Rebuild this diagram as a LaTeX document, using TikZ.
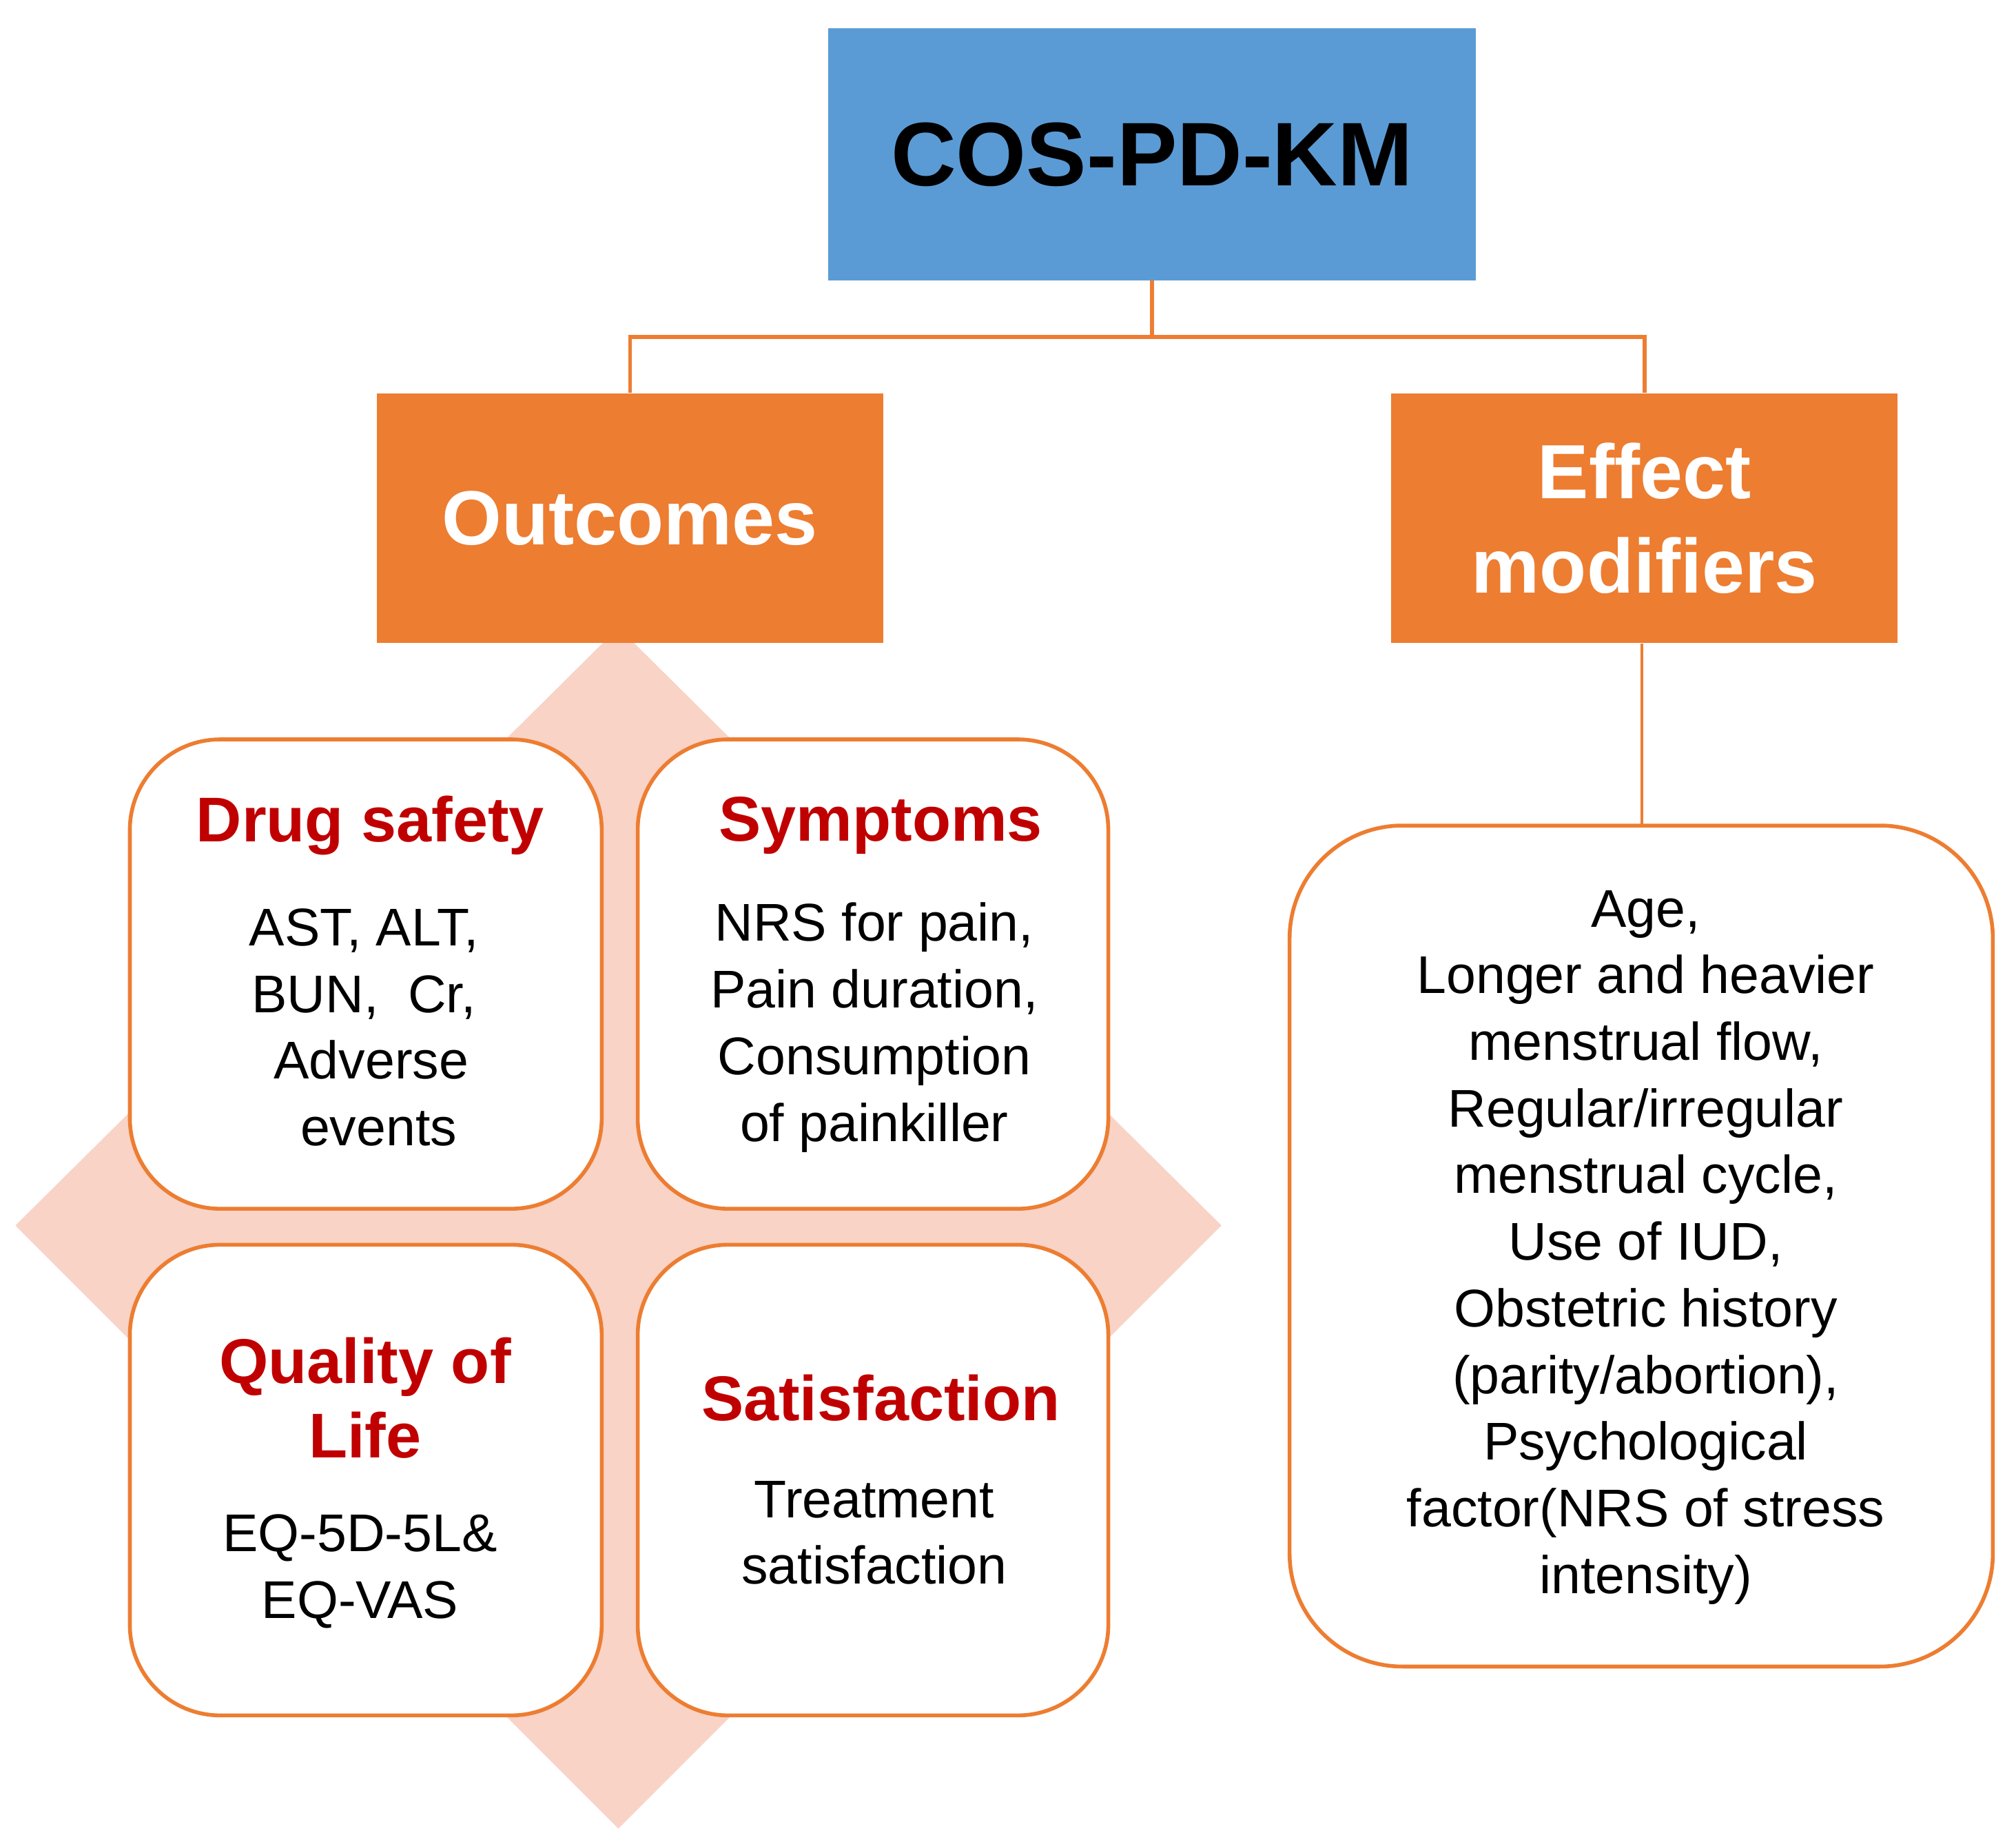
\documentclass[tikz,border=0pt]{standalone}
\usepackage{fontspec}
\setmainfont{Liberation Sans}
\definecolor{cblue}{HTML}{5B9BD5}
\definecolor{corange}{HTML}{ED7D31}
\definecolor{cpink}{HTML}{F8D3C6}
\definecolor{cred}{HTML}{C00000}
\begin{document}
\begin{tikzpicture}[x=0.02cm,y=-0.02cm,
  con/.style={draw=corange,line width=1.7pt},
  hbox/.style={fill=corange,draw=none,text=white,font=\fontsize{34}{42}\selectfont\bfseries,align=center},
  rbox/.style={fill=white,draw=corange,line width=1.7pt,rounded corners=40pt},
  ttl/.style={text=cred,font=\fontsize{28}{33}\selectfont\bfseries,align=center},
  bdy/.style={font=\fontsize{23.5}{29.5}\selectfont,align=center}]
\useasboundingbox (0,0) rectangle (1568,1434);
% diamond
\fill[cpink] (481,488) -- (950,953) -- (481,1422) -- (12,953) -- cycle;
% top
\node[fill=cblue,minimum width=504*0.02cm,minimum height=196*0.02cm,font=\fontsize{40}{48}\selectfont\bfseries] (top) at (896,120) {COS-PD-KM};
\node[hbox,minimum width=394*0.02cm,minimum height=194*0.02cm] (out) at (490,403) {Outcomes};
\node[hbox,minimum width=394*0.02cm,minimum height=194*0.02cm] (eff) at (1279,403) {Effect\\modifiers};
\coordinate (j) at (896,262);
\draw[con] (top.south) -- (j) -| (out.north);
\draw[con] (j) -| (eff.north);
% boxes
\draw[rbox] (101,575) rectangle (468,940);
\draw[rbox] (496,575) rectangle (862,940);
\draw[rbox] (101,968) rectangle (468,1334);
\draw[rbox] (496,968) rectangle (862,1334);
\draw[rbox,rounded corners=50pt] (1003,642) rectangle (1550,1296);
\coordinate (et) at (1277,642);
\draw[con,line width=1.2pt] (eff.south -| et) -- (et);
% texts
\node[ttl] (t1) at (288,642) {Drug safety};
\node[bdy] (b1) at (283,799) {AST, ALT,\\BUN,\ \ Cr,\\\ Adverse\\\ \ events};
\node[ttl] (t2) at (685,642) {Symptoms};
\node[bdy] (b2) at (680,799) {NRS for pain,\\Pain duration,\\Consumption\\of painkiller};
\node[ttl] (t3) at (284,1087) {Quality of\\Life};
\node[bdy] (b3) at (280,1222) {EQ-5D-5L\&\\EQ-VAS};
\node[ttl] (t4) at (685,1087) {Satisfaction};
\node[bdy] (b4) at (680,1192) {Treatment\\satisfaction};
\node[bdy] (b5) at (1280,970) {Age,\\Longer and heavier\\menstrual flow,\\Regular/irregular\\menstrual cycle,\\Use of IUD,\\Obstetric history\\(parity/abortion),\\Psychological\\factor(NRS of stress\\intensity)};
\end{tikzpicture}
\end{document}
